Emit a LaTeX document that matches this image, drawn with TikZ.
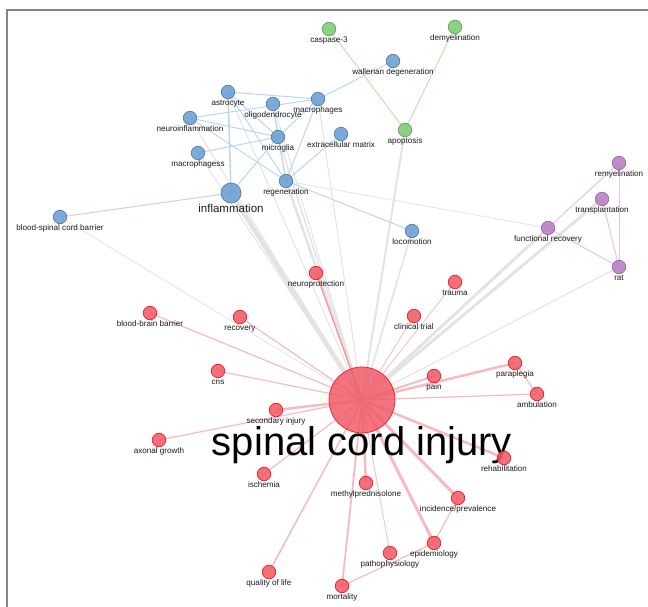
\documentclass[tikz,border=0pt]{standalone}
\usepackage{fontspec}
\setmainfont{Liberation Sans}
\usetikzlibrary{backgrounds}
\definecolor{ink}{HTML}{1A1A1A}
\definecolor{frame}{HTML}{858585}
\definecolor{kblue}{HTML}{6A9FD4}
\definecolor{kred}{HTML}{EE5C6A}
\definecolor{kgreen}{HTML}{7DCB73}
\definecolor{kpurple}{HTML}{B67DC3}
\definecolor{eblue}{HTML}{BBD6EF}
\definecolor{ered}{HTML}{F8B9BF}
\definecolor{egray}{HTML}{E3E3E3}
\definecolor{egreen}{HTML}{BDE3B5}
\definecolor{epurple}{HTML}{E4C3EA}
\newcommand{\kwfont}{\fontsize{8.1}{9.5}\selectfont}

\begin{document}
\begin{tikzpicture}[
  x=1pt, y=-1pt,
  lbl/.style={font=\kwfont, text=ink, inner sep=0pt, text height=6pt, text depth=1.5pt},
  kw/.style={circle, minimum size=13.5pt, inner sep=0pt, line width=0.7pt, fill opacity=0.88, label distance=0pt},
  bluekw/.style={kw, draw=kblue!80!black, fill=kblue, label={[lbl]below:#1}},
  redkw/.style={kw, draw=red!75!kred, fill=kred, label={[lbl]below:#1}},
  greenkw/.style={kw, draw=kgreen!80!black, fill=kgreen, label={[lbl]below:#1}},
  purplekw/.style={kw, draw=kpurple!85!black, fill=kpurple, label={[lbl]below:#1}},
  be/.style={eblue, line width=1pt},
  re/.style={ered, line width=#1},
  re/.default=1.2pt,
  ge/.style={egray, line width=#1},
  ge/.default=1pt,
  gre/.style={egreen, line width=1pt},
  pe/.style={epurple, line width=1pt}
]
\useasboundingbox (0,0) rectangle (648,607);
\draw[frame, line width=1.2pt] (7,607) -- (7,10) -- (648,10);

% green cluster
\node[greenkw=caspase-3] (casp) at (329,29) {};
\node[greenkw=demyelination] (demyel) at (455,27) {};
\node[greenkw=apoptosis] (apop) at (405,130) {};

% blue cluster
\node[bluekw=wallerian degeneration] (waller) at (393,61) {};
\node[bluekw=astrocyte] (astro) at (228,92) {};
\node[bluekw=oligodendrocyte] (oligo) at (273,104) {};
\node[bluekw=macrophages] (macro) at (318,99) {};
\node[bluekw=neuroinflammation] (neuroinfl) at (190,118) {};
\node[bluekw=microglia] (micro) at (278,137) {};
\node[bluekw=extracellular matrix] (ecm) at (341,134) {};
\node[bluekw=macrophagess] (macross) at (198,153) {};
\node[bluekw=regeneration] (regen) at (286,181) {};
\node[kw, minimum size=20pt, draw=kblue!80!black, fill=kblue,
  label={[lbl, font=\fontsize{11.5}{13}\selectfont, text height=8.5pt, text depth=2.5pt]below:inflammation}] (infl) at (231,193) {};
\node[bluekw=blood-spinal cord barrier] (bscb) at (60,217) {};
\node[bluekw=locomotion] (loco) at (412,231) {};

% purple cluster
\node[purplekw=remyelination] (remyel) at (619,163) {};
\node[purplekw=transplantation] (transp) at (602,199) {};
\node[purplekw=functional recovery] (funcrec) at (548,228) {};
\node[purplekw=rat] (rat) at (619,267) {};

% red cluster
\node[kw, minimum size=66pt, draw=red!75!kred, fill=kred, fill opacity=0.85] (sci) at (362,400) {};
\node[font=\fontsize{40}{44}\selectfont, text=black, inner sep=0pt] (scilbl) at (362,445) {spinal cord injury};
\node[redkw=neuroprotection] (neuroprot) at (316,273) {};
\node[redkw=trauma] (trauma) at (455,282) {};
\node[redkw=blood-brain barrier] (bbb) at (150,313) {};
\node[redkw=recovery] (recov) at (240,317) {};
\node[redkw=clinical trial] (ctrial) at (414,316) {};
\node[redkw=cns] (cns) at (218,371) {};
\node[redkw=pain] (pain) at (434,376) {};
\node[redkw=paraplegia] (parap) at (515,363) {};
\node[redkw=ambulation] (ambul) at (537,394) {};
\node[redkw=secondary injury] (secinj) at (276,410) {};
\node[redkw=axonal growth] (axon) at (159,440) {};
\node[redkw=rehabilitation] (rehab) at (504,458) {};
\node[redkw=ischemia] (isch) at (264,474) {};
\node[redkw=methylprednisolone] (methyl) at (366,483) {};
\node[redkw=incidence/prevalence] (incid) at (458,498) {};
\node[redkw=epidemiology] (epid) at (434,543) {};
\node[redkw=pathophysiology] (patho) at (390,553) {};
\node[redkw=quality of life] (qol) at (269,572) {};
\node[redkw=mortality] (mort) at (342,586) {};

\begin{scope}[on background layer]
% links between clusters
\draw[ge=4.5pt] (infl.center) -- (sci.center);
\draw[ge=2.5pt] (regen.center) -- (sci.center);
\draw[ge] (neuroinfl.center) -- (sci.center);
\draw[ge] (macross.center) -- (sci.center);
\draw[ge] (astro.center) -- (sci.center);
\draw[ge=1.5pt] (micro.center) -- (sci.center);
\draw[ge] (oligo.center) -- (sci.center);
\draw[ge] (macro.center) -- (sci.center);
\draw[ge=2pt] (apop.center) -- (sci.center);
\draw[ge=1.5pt] (loco.center) -- (sci.center);
\draw[ge=3pt] (funcrec.center) -- (sci.center);
\draw[ge=3pt] (transp.center) -- (sci.center);
\draw[ge] (rat.center) -- (sci.center);
\draw[ge=0.8pt] (bscb.center) -- (sci.center);
\draw[ge=0.8pt] (regen.center) -- (funcrec.center);
% green
\draw[gre] (casp.center) -- (apop.center);
\draw[gre] (demyel.center) -- (apop.center);
% blue
\draw[be] (waller.center) -- (macro.center);
\draw[be] (astro.center) -- (macro.center);
\draw[be] (neuroinfl.center) -- (macro.center);
\draw[be, line width=1.5pt] (astro.center) -- (infl.center);
\draw[be] (astro.center) -- (micro.center);
\draw[be] (astro.center) -- (regen.center);
\draw[be] (oligo.center) -- (micro.center);
\draw[be] (oligo.center) -- (regen.center);
\draw[be] (neuroinfl.center) -- (micro.center);
\draw[be] (neuroinfl.center) -- (regen.center);
\draw[be] (macross.center) -- (micro.center);
\draw[be] (micro.center) -- (macro.center);
\draw[be] (micro.center) -- (infl.center);
\draw[be] (micro.center) -- (regen.center);
\draw[be] (macro.center) -- (regen.center);
\draw[be] (ecm.center) -- (regen.center);
\draw[be] (regen.center) -- (loco.center);
\draw[be] (infl.center) -- (bscb.center);
% purple
\draw[pe] (remyel.center) -- (funcrec.center);
\draw[pe] (remyel.center) -- (rat.center);
\draw[pe] (transp.center) -- (rat.center);
\draw[pe] (funcrec.center) -- (rat.center);
% red
\draw[re=1.3pt, red!22!ered] (neuroprot.center) -- (sci.center);
\draw[re=0.8pt] (trauma.center) -- (sci.center);
\draw[re=0.8pt] (ctrial.center) -- (sci.center);
\draw[re] (bbb.center) -- (sci.center);
\draw[re] (recov.center) -- (sci.center);
\draw[re] (cns.center) -- (sci.center);
\draw[re=2pt] (pain.center) -- (sci.center);
\draw[re=2.5pt] (parap.center) -- (sci.center);
\draw[re] (ambul.center) -- (sci.center);
\draw[re=2.5pt] (secinj.center) -- (sci.center);
\draw[re] (axon.center) -- (sci.center);
\draw[re=2.5pt] (rehab.center) -- (sci.center);
\draw[re] (isch.center) -- (sci.center);
\draw[re=2.5pt] (methyl.center) -- (sci.center);
\draw[re=3pt] (incid.center) -- (sci.center);
\draw[re=3pt] (epid.center) -- (sci.center);
\draw[re=0.8pt] (patho.center) -- (sci.center);
\draw[re=1.5pt] (qol.center) -- (sci.center);
\draw[re=1.8pt] (mort.center) -- (sci.center);
\draw[re] (parap.center) -- (ambul.center);
\draw[re] (incid.center) -- (epid.center);
\draw[re] (epid.center) -- (mort.center);
\end{scope}
\end{tikzpicture}
\end{document}
